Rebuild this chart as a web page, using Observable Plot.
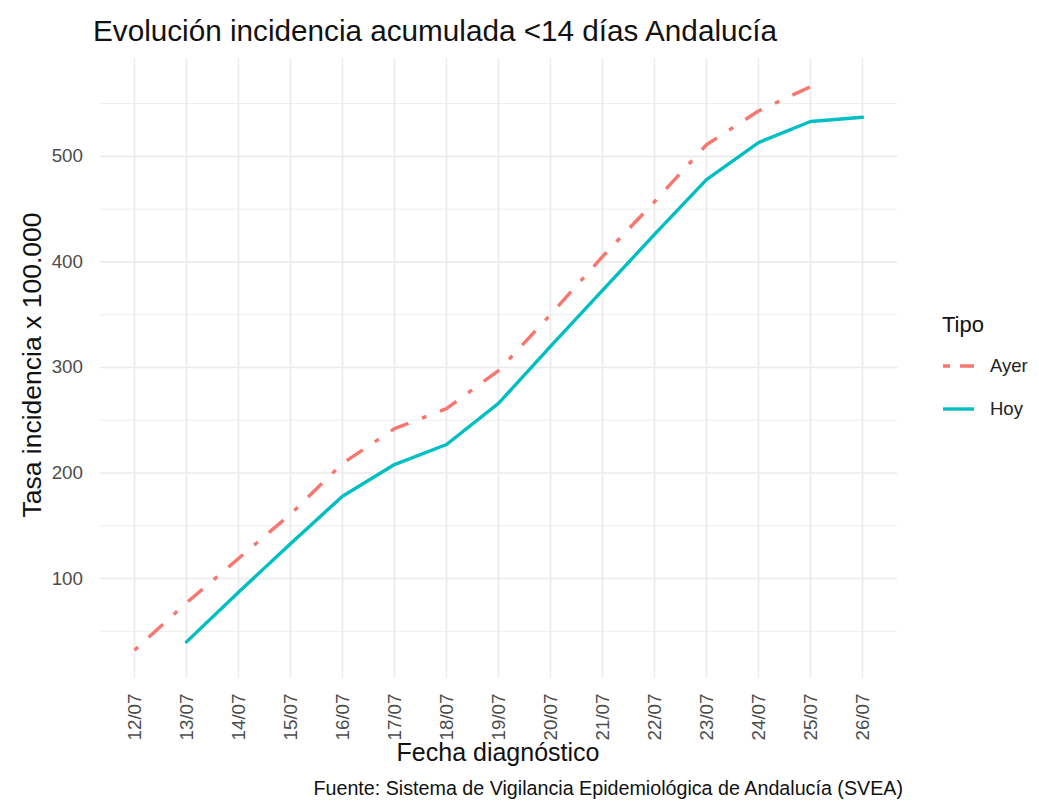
<!DOCTYPE html>
<html>
<head>
<meta charset="utf-8">
<script src="https://cdn.jsdelivr.net/npm/d3@7"></script>
<script src="https://cdn.jsdelivr.net/npm/@observablehq/plot@0.6"></script>
<style>
  html, body { margin: 0; padding: 0; background: #ffffff; overflow: hidden; }
  #wrap { position: relative; width: 1039px; height: 805px; font-family: "Liberation Sans", Arial, sans-serif; }
  #wrap svg { display: block; }
  .abs { position: absolute; white-space: nowrap; line-height: 1; }
  #title { left: 93px; top: 16px; font-size: 29.7px; color: #111; }
  #ylab { left: 32px; top: 365px; font-size: 26.5px; color: #111; transform: translate(-50%, -50%) rotate(-90deg); }
  #xlab { left: 498px; top: 752px; font-size: 25px; color: #111; transform: translate(-50%, -50%); }
  #caption { right: 136px; top: 789px; font-size: 19.7px; color: #111; transform: translateY(-50%); }
  #legtitle { left: 942px; top: 325px; font-size: 22px; color: #111; transform: translateY(-50%); }
  .leglab { left: 990px; font-size: 18.5px; color: #222; transform: translateY(-50%); }
  .legkey { left: 942px; }
</style>
</head>
<body>
<div id="wrap"></div>
<script>
// ---- data ----
const fechas = ["12/07","13/07","14/07","15/07","16/07","17/07","18/07","19/07","20/07","21/07","22/07","23/07","24/07","25/07","26/07"];
const ayer = [32, 77, 119, 161, 209, 242, 261, 297, 350, 405, 457, 511, 543, 566, null];
const hoy  = [null, 40, 87, 133, 178, 208, 227, 266, 320, 373, 426, 478, 513, 533, 537];
const tipos = ["Ayer", "Hoy"];
const colores = ["#F8766D", "#00BFC4"];
const yTicks = [100, 200, 300, 400, 500];
const yMinor = [50, 150, 250, 350, 450, 550];

const titulo = "Evolución incidencia acumulada <14 días Andalucía";
const yTitulo = "Tasa incidencia x 100.000";
const xTitulo = "Fecha diagnóstico";
const fuente = "Fuente: Sistema de Vigilancia Epidemiológica de Andalucía (SVEA)";
const legTitulo = "Tipo";

// ---- rows ----
const rows = [];
[ayer, hoy].forEach((vals, i) => {
  vals.forEach((v, j) => { if (v != null) rows.push({tipo: tipos[i], fecha: fechas[j], valor: v}); });
});
const allVals = rows.map(d => d.valor);
const vmin = d3.min(allVals), vmax = d3.max(allVals);
const pad = (vmax - vmin) * 0.05;

const dashAyer = "4.8,14.5,19.3,14.5";

const chart = Plot.plot({
  width: 1039,
  height: 805,
  marginLeft: 99.5,
  marginRight: 142,
  marginTop: 58,
  marginBottom: 127,
  style: { fontFamily: '"Liberation Sans", Arial, sans-serif', fontSize: "18.8px", color: "#4d4d4d", background: "#ffffff" },
  x: { type: "point", domain: fechas, padding: 0.6 },
  y: { domain: [vmin - pad, vmax + pad] },
  color: { domain: tipos, range: colores },
  marks: [
    Plot.ruleY(yMinor, { stroke: "#ebebeb", strokeWidth: 0.9 }),
    Plot.ruleY(yTicks, { stroke: "#ebebeb", strokeWidth: 1.6 }),
    Plot.ruleX(fechas, { x: d => d, stroke: "#ebebeb", strokeWidth: 1.6 }),
    Plot.axisY({ ticks: yTicks, tickSize: 0, tickPadding: 17, label: null }),
    Plot.axisX({ tickRotate: -90, tickSize: 0, tickPadding: 15, label: null }),
    Plot.line(rows.filter(d => d.tipo === "Hoy"), { x: "fecha", y: "valor", stroke: "tipo", strokeWidth: 3.4 }),
    Plot.line(rows.filter(d => d.tipo === "Ayer"), { x: "fecha", y: "valor", stroke: "tipo", strokeWidth: 3.4, strokeDasharray: dashAyer, strokeLinecap: "butt" })
  ]
});

const wrap = document.getElementById("wrap");
wrap.appendChild(chart);

function addText(id, cls, text, extraStyle) {
  const el = document.createElement("div");
  if (id) el.id = id;
  el.className = "abs " + (cls || "");
  el.textContent = text;
  if (extraStyle) Object.assign(el.style, extraStyle);
  wrap.appendChild(el);
  return el;
}
addText("title", "", titulo);
addText("ylab", "", yTitulo);
addText("xlab", "", xTitulo);
addText("caption", "", fuente);
addText("legtitle", "", legTitulo);

const legY = [366, 409];
tipos.forEach((t, i) => {
  const ns = "http://www.w3.org/2000/svg";
  const svg = document.createElementNS(ns, "svg");
  svg.setAttribute("width", 34);
  svg.setAttribute("height", 10);
  svg.setAttribute("class", "abs legkey");
  svg.style.top = (legY[i] - 5) + "px";
  const ln = document.createElementNS(ns, "line");
  ln.setAttribute("x1", 1); ln.setAttribute("x2", 32);
  ln.setAttribute("y1", 5); ln.setAttribute("y2", 5);
  ln.setAttribute("stroke", colores[i]);
  ln.setAttribute("stroke-width", 3.4);
  if (t === "Ayer") ln.setAttribute("stroke-dasharray", "7,10,14,10");
  svg.appendChild(ln);
  wrap.appendChild(svg);
  addText(null, "leglab", t, { top: legY[i] + "px" });
});
</script>
</body>
</html>
